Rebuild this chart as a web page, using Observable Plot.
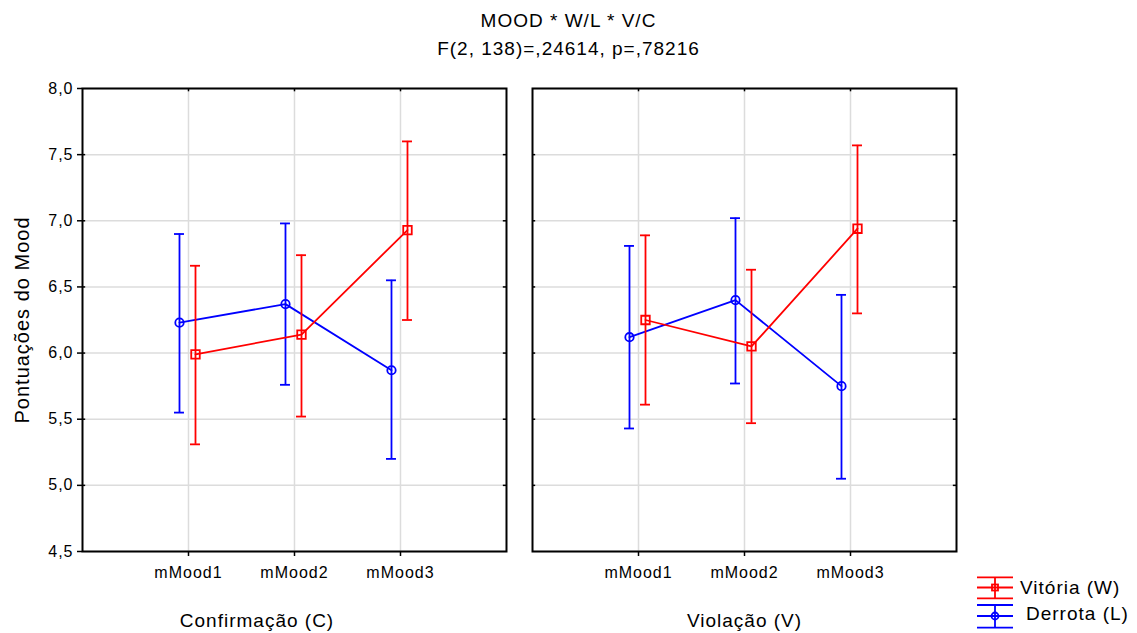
<!DOCTYPE html>
<html>
<head>
<meta charset="utf-8">
<script src="https://cdn.jsdelivr.net/npm/d3@7"></script>
<script src="https://cdn.jsdelivr.net/npm/@observablehq/plot@0.6"></script>
<style>
  body { margin: 0; background: #fff; }
  #wrap { position: relative; width: 1137px; height: 633px; overflow: hidden;
          font-family: "Liberation Sans", Arial, sans-serif; color: #000; background: #fff; }
  #header { position: relative; height: 72px; }
  .t { position: absolute; left: 0; width: 1137px; text-align: center; font-size: 19px;
       line-height: 19px; letter-spacing: 1px; white-space: nowrap; }
  #chart svg text { letter-spacing: 1px; }
  #legend { position: absolute; left: 0; top: 0; pointer-events: none; }
</style>
</head>
<body>
<div id="wrap">
  <div id="header">
    <div class="t" style="top:11px">MOOD * W/L * V/C</div>
    <div class="t" style="top:39px">F(2, 138)=,24614, p=,78216</div>
  </div>
  <div id="chart"></div>
  <svg id="legend" width="1137" height="633"></svg>
</div>
<script>
// ---- data ----
const moods = ["mMood1", "mMood2", "mMood3"];
const conditions = ["C", "V"];
const conditionLabels = ["Confirmação (C)", "Violação (V)"];
const seriesNames = ["Vitória (W)", "Derrota (L)"];
const yTicks = [4.5, 5.0, 5.5, 6.0, 6.5, 7.0, 7.5, 8.0];

// Vitória (W)
const vitoriaC_mean = [5.99, 6.14, 6.93];
const vitoriaC_lo   = [5.31, 5.52, 6.25];
const vitoriaC_hi   = [6.66, 6.74, 7.60];
const vitoriaV_mean = [6.25, 6.05, 6.94];
const vitoriaV_lo   = [5.61, 5.47, 6.30];
const vitoriaV_hi   = [6.89, 6.63, 7.57];
// Derrota (L)
const derrotaC_mean = [6.23, 6.37, 5.87];
const derrotaC_lo   = [5.55, 5.76, 5.20];
const derrotaC_hi   = [6.90, 6.98, 6.55];
const derrotaV_mean = [6.12, 6.40, 5.75];
const derrotaV_lo   = [5.43, 5.77, 5.05];
const derrotaV_hi   = [6.81, 7.02, 6.44];

// ---- build tables ----
const RED = "#ff0000", BLUE = "#0000ff";
const offset = {W: 0.066, L: -0.085};
function rowsFor(series, cond, mean, lo, hi) {
  return moods.map((m, i) => ({
    series, cond, mood: m, xp: i + 1 + offset[series],
    mean: mean[i], lo: lo[i], hi: hi[i]
  }));
}
const rowsW = [
  ...rowsFor("W", "C", vitoriaC_mean, vitoriaC_lo, vitoriaC_hi),
  ...rowsFor("W", "V", vitoriaV_mean, vitoriaV_lo, vitoriaV_hi)
];
const rowsL = [
  ...rowsFor("L", "C", derrotaC_mean, derrotaC_lo, derrotaC_hi),
  ...rowsFor("L", "V", derrotaV_mean, derrotaV_lo, derrotaV_hi)
];

const fmt = d => d.toFixed(1).replace(".", ",");
const capHalf = 0.047;
const xTickVals = moods.map((m, i) => i + 1);
const SW = 1.8;

function seriesMarks(rows, color, symbol, r) {
  return [
    Plot.ruleX(rows, {x: "xp", y1: "lo", y2: "hi", fx: "cond", stroke: color, strokeWidth: SW}),
    Plot.ruleY(rows, {y: "hi", x1: d => d.xp - capHalf, x2: d => d.xp + capHalf, fx: "cond", stroke: color, strokeWidth: SW}),
    Plot.ruleY(rows, {y: "lo", x1: d => d.xp - capHalf, x2: d => d.xp + capHalf, fx: "cond", stroke: color, strokeWidth: SW}),
    Plot.line(rows, {x: "xp", y: "mean", fx: "cond", stroke: color, strokeWidth: SW}),
    Plot.dot(rows, {x: "xp", y: "mean", fx: "cond", symbol, r, stroke: color, fill: "none", strokeWidth: SW})
  ];
}

const chart = Plot.plot({
  width: 1137,
  height: 561,
  marginTop: 16,
  marginBottom: 82,
  marginLeft: 82,
  marginRight: 181,
  style: {fontFamily: "'Liberation Sans', Arial, sans-serif", fontSize: "16px", background: "white", color: "black", overflow: "visible"},
  x: {domain: [0, 4]},
  y: {domain: [4.5, 8]},
  fx: {domain: conditions, paddingInner: 0.0578, paddingOuter: 0, round: false, axis: null},
  marks: [
    Plot.gridY(yTicks, {stroke: "#dcdcdc", strokeOpacity: 1, strokeWidth: 1.5}),
    Plot.gridX(xTickVals, {stroke: "#dcdcdc", strokeOpacity: 1, strokeWidth: 1.5}),
    Plot.axisY(yTicks, {tickFormat: fmt, tickSize: 5, tickPadding: 4, label: null, strokeWidth: 1.5, fontSize: 16, facetAnchor: "left"}),
    Plot.axisX(xTickVals, {tickFormat: d => moods[d - 1], tickSize: 5, tickPadding: 10, label: null, strokeWidth: 1.5, fontSize: 16}),
    Plot.ruleY(yTicks.slice(1, -1), {x1: 0, x2: 0.03, stroke: "black", strokeWidth: 1.5}),
    Plot.ruleY(yTicks.slice(1, -1), {x1: 3.97, x2: 4, stroke: "black", strokeWidth: 1.5}),
    Plot.ruleX(xTickVals, {y1: 8, y2: 7.975, stroke: "black", strokeWidth: 1.5}),
    Plot.frame({stroke: "black", strokeWidth: 2}),
    ...seriesMarks(rowsL, BLUE, "circle", 4.2),
    ...seriesMarks(rowsW, RED, "square", 4.8),
    Plot.text([{cond: "C", t: "Pontuações do Mood"}], {
      fx: "cond", text: "t", frameAnchor: "left", dx: -54, rotate: -90,
      textAnchor: "middle", lineAnchor: "bottom", fontSize: 20
    }),
    Plot.text([{cond: "C", t: conditionLabels[0]}], {
      fx: "cond", text: "t", frameAnchor: "bottom", dx: -37.5, dy: 75.5,
      textAnchor: "middle", lineAnchor: "bottom", fontSize: 19
    }),
    Plot.text([{cond: "V", t: conditionLabels[1]}], {
      fx: "cond", text: "t", frameAnchor: "bottom", dx: 0, dy: 75.5,
      textAnchor: "middle", lineAnchor: "bottom", fontSize: 19
    })
  ]
});
document.getElementById("chart").appendChild(chart);

// ---- legend ----
const lg = d3.select("#legend");
const legendItems = [
  {name: seriesNames[0], color: RED, sym: "square", yTop: 577.3, yMid: 587.5, yBot: 598.3, tx: 1020, ty: 594},
  {name: seriesNames[1], color: BLUE, sym: "circle", yTop: 605, yMid: 616, yBot: 627.7, tx: 1026, ty: 620}
];
legendItems.forEach(it => {
  const g = lg.append("g").attr("stroke", it.color).attr("stroke-width", 1.8).attr("fill", "none");
  [it.yTop, it.yMid, it.yBot].forEach(y => g.append("line").attr("x1", 977).attr("x2", 1013).attr("y1", y).attr("y2", y));
  g.append("line").attr("x1", 995).attr("x2", 995).attr("y1", it.yTop).attr("y2", it.yBot);
  if (it.sym === "square") g.append("rect").attr("x", 992).attr("y", it.yMid - 3).attr("width", 6).attr("height", 6);
  else g.append("circle").attr("cx", 995).attr("cy", it.yMid).attr("r", 3.5);
  lg.append("text").attr("x", it.tx).attr("y", it.ty).text(it.name)
    .attr("font-family", "'Liberation Sans', Arial, sans-serif").attr("font-size", 19)
    .style("letter-spacing", "1px").attr("fill", "black");
});
</script>
</body>
</html>
